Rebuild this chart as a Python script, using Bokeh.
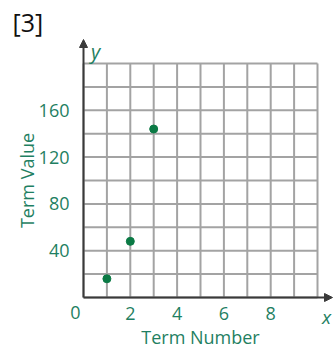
from bokeh.plotting import figure
from bokeh.models import Range1d, Label, Arrow, NormalHead
from bokeh.embed import file_html
from bokeh.resources import INLINE

# Sequence: term number vs. term value
term_number = [1, 2, 3]
term_value = [16, 48, 144]

# Axis ticks and grid lines
x_ticks = [2, 4, 6, 8]
y_ticks = [40, 80, 120, 160]
grid_x = list(range(0, 11))
grid_y = list(range(0, 201, 20))

TEXT = "#1f7f62"
DOT = "#0b7a45"
GRID = "#a3a3a3"
AXIS = "#3a3a3a"
FONT = "Open Sans"

# pixel scale: one grid cell is 23.4 px square (1 unit in x, 20 units in y)
PX_X = 23.4
PX_Y = 23.4 / 20
ORIGIN_X, ORIGIN_Y = 83, 297  # origin position on the canvas
W, H = 333, 349

p = figure(
    width=W, height=H,
    x_range=Range1d(-ORIGIN_X / PX_X, (W - ORIGIN_X) / PX_X),
    y_range=Range1d(-(H - ORIGIN_Y) / PX_Y, ORIGIN_Y / PX_Y),
    output_backend="svg", toolbar_location=None,
    min_border=0,
)
p.outline_line_color = None
p.grid.visible = False
p.background_fill_color = "white"
p.border_fill_color = "white"

for ax, ticks, label, bounds in ((p.xaxis, x_ticks, "Term Number", (0, 10)),
                                 (p.yaxis, y_ticks, "Term Value", (0, 200))):
    ax.fixed_location = 0
    ax.bounds = bounds
    ax.ticker = ticks
    ax.axis_line_color = None
    ax.major_tick_line_color = None
    ax.minor_tick_line_color = None
    ax.major_label_text_font = FONT
    ax.major_label_text_font_size = "18px"
    ax.major_label_text_color = TEXT
    ax.axis_label = label
    ax.axis_label_text_font = FONT
    ax.axis_label_text_font_size = "18px"
    ax.axis_label_text_font_style = "normal"
    ax.axis_label_text_color = TEXT

p.xaxis.major_label_standoff = 3
p.xaxis.axis_label_standoff = 2
p.yaxis.major_label_standoff = 8
p.yaxis.axis_label_standoff = -3

# grid
p.segment(x0=grid_x, y0=0, x1=grid_x, y1=200, line_color=GRID, line_width=2)
p.segment(x0=0, y0=grid_y, x1=10, y1=grid_y, line_color=GRID, line_width=2)

# axes with arrow heads
head = dict(size=8, fill_color=AXIS, line_color=AXIS)
p.add_layout(Arrow(end=NormalHead(**head), x_start=0, y_start=0, x_end=0, y_end=(ORIGIN_Y - 39) / PX_Y,
                   line_color=AXIS, line_width=2))
p.add_layout(Arrow(end=NormalHead(**head), x_start=0, y_start=0, x_end=(W - 1 - ORIGIN_X) / PX_X, y_end=0,
                   line_color=AXIS, line_width=2))

# data points
p.scatter(term_number, term_value, size=8, fill_color=DOT, line_color=DOT)

# axis letters, origin and item number
p.add_layout(Label(x=12 / PX_X, y=246 / PX_Y, text="y", text_font=FONT, text_font_size="20px",
                   text_font_style="italic", text_color=TEXT, text_align="center",
                   text_baseline="middle"))
p.add_layout(Label(x=243 / PX_X, y=-19 / PX_Y, text="x", text_font=FONT, text_font_size="19px",
                   text_font_style="italic", text_color=TEXT, text_align="center",
                   text_baseline="middle"))
p.add_layout(Label(x=-8 / PX_X, y=-15 / PX_Y, text="0", text_font=FONT, text_font_size="18px",
                   text_color=TEXT, text_align="center", text_baseline="middle"))
p.add_layout(Label(x=-71 / PX_X, y=276 / PX_Y, text="[3]", text_font=FONT, text_font_size="25px",
                   text_color="#111111", text_align="left", text_baseline="middle"))

open("out.html", "w").write(file_html(p, INLINE))
